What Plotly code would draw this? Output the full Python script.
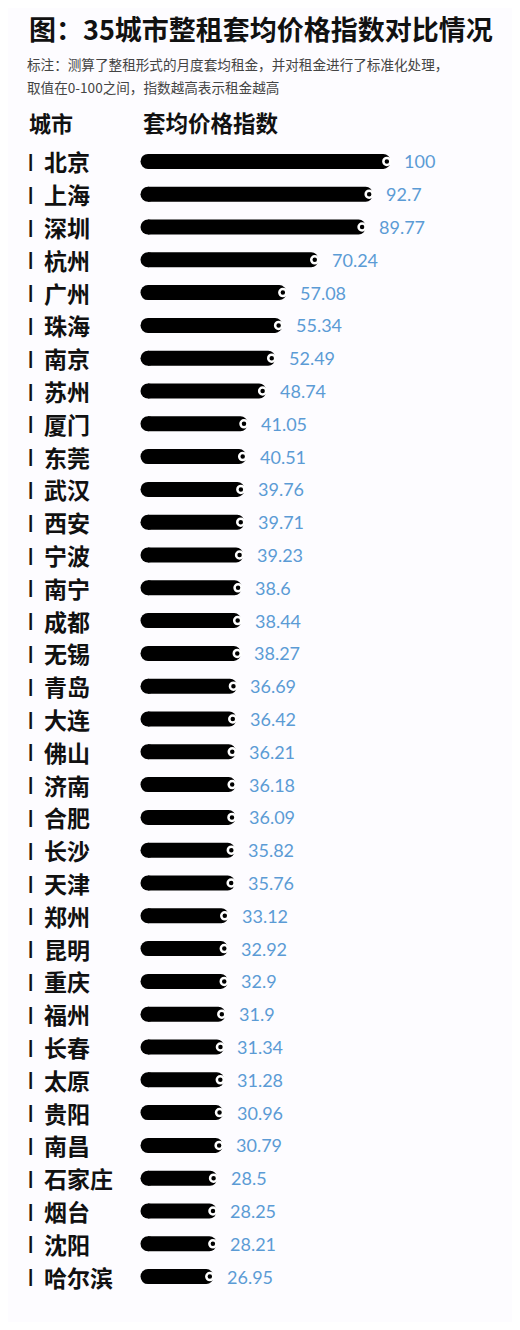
import plotly.graph_objects as go

# Data
cities = ["北京", "上海", "深圳", "杭州", "广州", "珠海", "南京", "苏州", "厦门", "东莞",
          "武汉", "西安", "宁波", "南宁", "成都", "无锡", "青岛", "大连", "佛山", "济南",
          "合肥", "长沙", "天津", "郑州", "昆明", "重庆", "福州", "长春", "太原", "贵阳",
          "南昌", "石家庄", "烟台", "沈阳", "哈尔滨"]
index_values = [100, 92.7, 89.77, 70.24, 57.08, 55.34, 52.49, 48.74, 41.05, 40.51,
                39.76, 39.71, 39.23, 38.6, 38.44, 38.27, 36.69, 36.42, 36.21, 36.18,
                36.09, 35.82, 35.76, 33.12, 32.92, 32.9, 31.9, 31.34, 31.28, 30.96,
                30.79, 28.5, 28.25, 28.21, 26.95]

title_text = "图：35城市整租套均价格指数对比情况"
note_lines = ["标注：测算了整租形式的月度套均租金，并对租金进行了标准化处理，",
              "取值在0-100之间，指数越高表示租金越高"]
col_headers = ["城市", "套均价格指数"]

CJK = "Noto Sans CJK SC"
NUM_FONT = "Lato, Open Sans, sans-serif"
BLUE = "#5b9bd5"
BG = "#fdfcff"

# geometry (pixels; page body adds an 8px margin)
W, H = 504, 1314
L, R, T, B = 139.5, 10, 137, 29
px_per_unit = 2.427
x_max = (W - L - R) / px_per_unit
dot_shift = 3.5 / px_per_unit  # dot sits a few px inside the rounded end

fig = go.Figure()

# bars, rounded at the far end
fig.add_trace(go.Bar(
    x=index_values, y=cities, orientation="h",
    marker=dict(color="black", cornerradius="50%", line=dict(width=0)),
    width=0.457, hoverinfo="skip", showlegend=False,
))

# round cap at the bar base
fig.add_trace(go.Scatter(
    x=[0] * len(cities), y=cities, mode="markers",
    marker=dict(color="black", size=15, line=dict(width=0)),
    hoverinfo="skip", showlegend=False, cliponaxis=False,
))

# white ring dot near the bar end
fig.add_trace(go.Scatter(
    x=index_values, y=cities, mode="markers", xaxis="x2",
    marker=dict(color="black", size=7, line=dict(color="white", width=2.5)),
    hoverinfo="skip", showlegend=False, cliponaxis=False,
))

annotations = []
for c, v in zip(cities, index_values):
    annotations.append(dict(x=0, xref="paper", y=c, yref="y", xshift=-122.5,
                            text="<b>|</b>", showarrow=False, xanchor="left",
                            yanchor="middle",
                            font=dict(family="Liberation Sans", size=19, color="#111"),
                            yshift=1))
    annotations.append(dict(x=0, xref="paper", y=c, yref="y", xshift=-106.5,
                            text="<b>%s</b>" % c, showarrow=False, xanchor="left",
                            yanchor="middle",
                            font=dict(family=CJK, size=23, color="#111")))
    annotations.append(dict(x=v, xref="x2", y=c, yref="y", xshift=15,
                            text="{:g}".format(v), showarrow=False, xanchor="left",
                            yanchor="middle",
                            font=dict(family=NUM_FONT, size=18, color=BLUE)))

# title, note and column headers above the plot area
annotations.append(dict(x=0, xref="paper", y=1, yref="paper", xshift=-121.5, yshift=117,
                        text="<b>%s</b>" % title_text, showarrow=False,
                        xanchor="left", yanchor="middle",
                        font=dict(family=CJK, size=27, color="#111")))
for i, line in enumerate(note_lines):
    annotations.append(dict(x=0, xref="paper", y=1, yref="paper", xshift=-123,
                            yshift=81 - 23 * i, text=line, showarrow=False,
                            xanchor="left", yanchor="middle",
                            font=dict(family=CJK, size=13.6, color="#444")))
annotations.append(dict(x=0, xref="paper", y=1, yref="paper", xshift=-121.5, yshift=23,
                        text="<b>%s</b>" % col_headers[0], showarrow=False,
                        xanchor="left", yanchor="middle",
                        font=dict(family=CJK, size=22, color="#111")))
annotations.append(dict(x=0, xref="paper", y=1, yref="paper", xshift=-7.5, yshift=23,
                        text="<b>%s</b>" % col_headers[1], showarrow=False,
                        xanchor="left", yanchor="middle",
                        font=dict(family=CJK, size=22.5, color="#111")))

fig.update_layout(
    width=W, height=H,
    margin=dict(l=L, r=R, t=T, b=B),
    paper_bgcolor=BG, plot_bgcolor=BG,
    xaxis=dict(range=[0, x_max], visible=False, fixedrange=True),
    xaxis2=dict(range=[dot_shift, x_max + dot_shift], overlaying="x", visible=False,
                fixedrange=True),
    yaxis=dict(type="category", categoryorder="array", categoryarray=cities,
               range=[len(cities) - 0.5, -0.5], visible=False, fixedrange=True),
    annotations=annotations,
)

fig.write_html("out.html")
